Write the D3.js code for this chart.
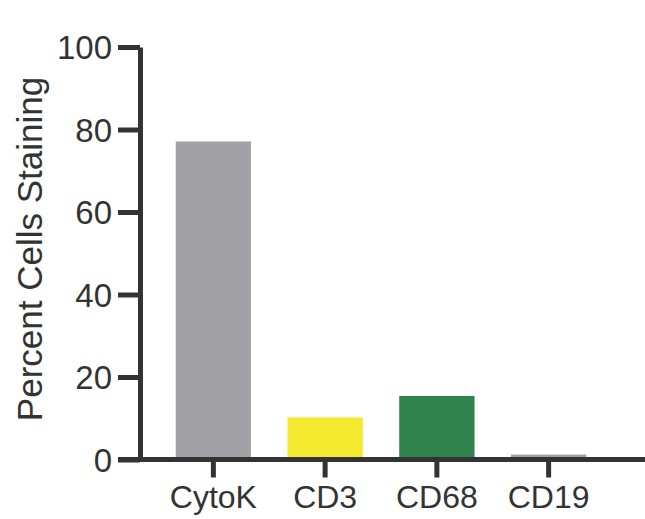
<!DOCTYPE html>
<html>
<head>
<meta charset="utf-8">
<script src="https://cdn.jsdelivr.net/npm/d3@7"></script>
<style>
  body { margin: 0; background: #fff; }
  svg text { font-family: "Liberation Sans", Arial, sans-serif; fill: #333; }
</style>
</head>
<body>
<div id="chart"></div>
<script>
const categories = ["CytoK", "CD3", "CD68", "CD19"];
const values = [77.1, 10.2, 15.4, 1.2];
const colors = ["#a2a1a6", "#f3ea30", "#2e844c", "#a2a1a6"];
const yTicks = [0, 20, 40, 60, 80, 100];

const width = 645, height = 519;

const svg = d3.select("#chart")
    .append("svg")
    .attr("width", width)
    .attr("height", height);

// Scales
const x = d3.scaleBand()
    .domain(categories)
    .range([157.5, 604.5])
    .paddingInner(0.326)
    .paddingOuter(0.163);

const y = d3.scaleLinear()
    .domain([0, 100])
    .range([459.5, 47]);

// Bars
svg.append("g")
    .selectAll("rect")
    .data(categories)
    .enter()
    .append("rect")
    .attr("x", d => x(d))
    .attr("y", (d, i) => y(values[i]))
    .attr("width", x.bandwidth())
    .attr("height", (d, i) => y(0) - y(values[i]))
    .attr("fill", (d, i) => colors[i]);

// Y axis
const yAxis = svg.append("g")
    .attr("transform", "translate(140,0)")
    .call(d3.axisLeft(y).tickValues(yTicks).tickSize(22).tickPadding(6).tickSizeOuter(0));
yAxis.select(".domain").attr("stroke", "#333").attr("stroke-width", 5);
yAxis.selectAll(".tick line").attr("stroke", "#333").attr("stroke-width", 5);
yAxis.selectAll(".tick text").style("font-size", "33px").attr("dy", "0.36em");

// X axis
const xAxis = svg.append("g")
    .attr("transform", `translate(0,${y(0)})`)
    .call(d3.axisBottom(x).tickSize(18).tickPadding(8).tickSizeOuter(0));
xAxis.select(".domain").remove();
xAxis.selectAll(".tick line").attr("stroke", "#333").attr("stroke-width", 5);
xAxis.selectAll(".tick text").style("font-size", "32px");

svg.append("line")
    .attr("x1", 118)
    .attr("x2", width)
    .attr("y1", y(0))
    .attr("y2", y(0))
    .attr("stroke", "#333")
    .attr("stroke-width", 5);

// Y label
svg.append("text")
    .attr("transform", "translate(42,249) rotate(-90)")
    .attr("text-anchor", "middle")
    .style("font-size", "35px")
    .text("Percent Cells Staining");
</script>
</body>
</html>
